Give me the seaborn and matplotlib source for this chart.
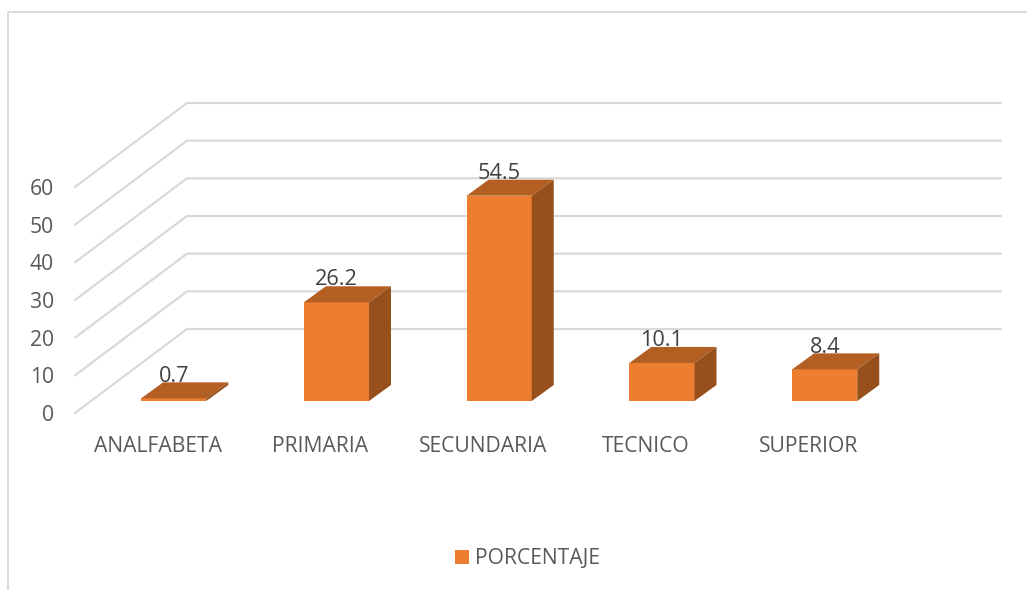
import matplotlib
matplotlib.use("Agg")
import matplotlib.pyplot as plt
import matplotlib.transforms as mtrans
from matplotlib.lines import Line2D
import seaborn as sns

# Data
categorias = ["ANALFABETA", "PRIMARIA", "SECUNDARIA", "TECNICO", "SUPERIOR"]
porcentaje = [0.7, 26.2, 54.5, 10.1, 8.4]
ticks_y = [0, 10, 20, 30, 40, 50, 60]
serie = "PORCENTAJE"

W, H = 1027, 590
PX_X = 162.75  # pixels per category
PX_Y = 3.767   # pixels per percent
X0 = 173.7     # pixel of the first category
Y0 = 401       # pixel of value 0 on the bars

sns.set_style("white")
plt.rcParams["font.family"] = ["Open Sans", "DejaVu Sans"]

fig = plt.figure(figsize=(W / 100, H / 100), dpi=100)
ax = fig.add_axes([75 / W, 1 - 413 / H, (1001 - 75) / W, (413 - 103) / H])

sns.barplot(x=categorias, y=porcentaje, color="#ED7D31", width=0.4, saturation=1,
            label=serie, ax=ax, zorder=3, linewidth=0)
ax.set_xlim((75 - X0) / PX_X, (1001 - X0) / PX_X)
ax.set_ylim((Y0 - 413) / PX_Y, (Y0 - 103) / PX_Y)

# Depth of the fake 3D bars, in data units
dx = 22 / PX_X
dy = 16 / PX_Y

for bar in list(ax.patches):
    x0 = bar.get_x()
    x1 = x0 + bar.get_width()
    h = bar.get_height()
    ax.fill([x0, x1, x1 + dx, x0 + dx], [h, h, h + dy, h + dy], color="#B35E22", lw=0, zorder=3)
    ax.fill([x1, x1 + dx, x1 + dx, x1], [0, dy, h + dy, h], color="#97501C", lw=0, zorder=3)

# Back wall and the diagonal side wall
wall_x = (187 - X0) / PX_X
wall_up = (Y0 - 329) / PX_Y
front_x = (75 - X0) / PX_X
front_down = (413 - Y0) / PX_Y
end_x = (1001 - X0) / PX_X
for v in ticks_y:
    ax.plot([front_x, wall_x, end_x], [v - front_down, v + wall_up, v + wall_up],
            color="#D9D9D9", lw=1.6, zorder=1, clip_on=False)

ax.set_yticks(ticks_y)
ax.tick_params(axis="both", length=0, labelsize=15.2, labelcolor="#595959")
ax.tick_params(axis="y", pad=15)
ax.tick_params(axis="x", pad=16.5)
ax.set_xlabel("")
ax.set_ylabel("")
sns.despine(ax=ax, left=True, bottom=True)

# Tick labels sit on the front plane, not on the bars
off_y = mtrans.ScaledTranslation(0, -12 / 100, fig.dpi_scale_trans)
off_x = mtrans.ScaledTranslation(-16 / 100, 0, fig.dpi_scale_trans)
for lab in ax.get_yticklabels():
    lab.set_transform(lab.get_transform() + off_y)
for lab in ax.get_xticklabels():
    lab.set_transform(lab.get_transform() + off_x)

# Value labels
ax.bar_label(ax.containers[0], labels=[str(v) for v in porcentaje], padding=8.5,
             fontsize=15.6, color="#404040", zorder=5)

ax.legend(loc="center", bbox_to_anchor=(527.5 / W, 1 - 559 / H), bbox_transform=fig.transFigure,
          frameon=False, fontsize=15.2, labelcolor="#595959", handlelength=0.66, handleheight=0.66,
          handletextpad=0.3)

# Chart area border, cut at the right and bottom of the image
fig.add_artist(Line2D([8 / W, 8 / W, 1], [0, 1 - 12 / H, 1 - 12 / H], color="#D9D9D9", lw=1.4))

fig.savefig("out.png", dpi=100)
